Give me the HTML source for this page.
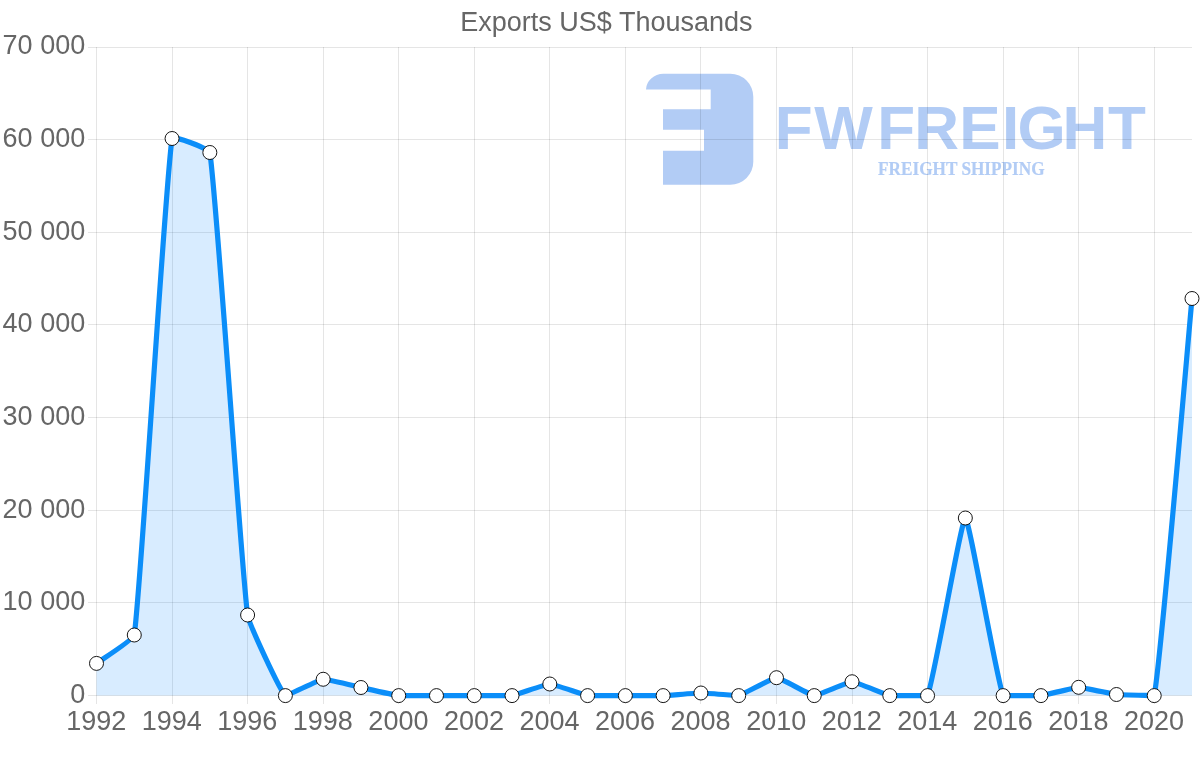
<!DOCTYPE html>
<html lang="en">
<head>
<meta charset="utf-8">
<title>Exports US$ Thousands</title>
<style>
html,body{margin:0;padding:0;background:#fff;}
body{width:1200px;height:763px;overflow:hidden;}
svg{display:block;}
.tick{font-family:"Liberation Sans", Arial, Helvetica, sans-serif;font-size:27px;fill:#666;}
.title{font-family:"Liberation Sans", Arial, Helvetica, sans-serif;font-size:27px;fill:#666;}
.brand{font-family:"Liberation Sans", Arial, sans-serif;font-weight:bold;fill:#b2ccf5;}
.sub{font-family:"Liberation Serif", "Times New Roman", serif;font-weight:bold;fill:#b2ccf5;}
</style>
</head>
<body>
<svg width="1200" height="763" viewBox="0 0 1200 763">
<rect width="1200" height="763" fill="#fff"/>
<g id="logo">
<path fill="#b2ccf5" d="M646 89.4 A18 16 0 0 1 663.5 73.8 H730.3 A23 23 0 0 1 753.3 96.8 V161.8 A23 23 0 0 1 730.3 184.8 H663 V150.8 H704 V129.7 H663 V109.2 H710.7 V89.4 Z"/>
<text class="brand" x="774.8 814.2 877.2 914.2 959.3 1002 1017.4 1062.6 1108.1" y="149.3" font-size="62">FWFREIGHT</text>
<text class="sub" stroke="#b2ccf5" stroke-width="0.2" x="878.0" y="174.8" font-size="18.4" textLength="166.6" lengthAdjust="spacingAndGlyphs">FREIGHT SHIPPING</text>
</g>
<g fill="#000" fill-opacity="0.1">
<rect x="96" y="47" width="1" height="657"/>
<rect x="172" y="47" width="1" height="657"/>
<rect x="247" y="47" width="1" height="657"/>
<rect x="323" y="47" width="1" height="657"/>
<rect x="398" y="47" width="1" height="657"/>
<rect x="474" y="47" width="1" height="657"/>
<rect x="549" y="47" width="1" height="657"/>
<rect x="625" y="47" width="1" height="657"/>
<rect x="700" y="47" width="1" height="657"/>
<rect x="776" y="47" width="1" height="657"/>
<rect x="852" y="47" width="1" height="657"/>
<rect x="927" y="47" width="1" height="657"/>
<rect x="1003" y="47" width="1" height="657"/>
<rect x="1078" y="47" width="1" height="657"/>
<rect x="1154" y="47" width="1" height="657"/>
<rect x="88" y="695" width="1104" height="1"/>
<rect x="88" y="602" width="1104" height="1"/>
<rect x="88" y="510" width="1104" height="1"/>
<rect x="88" y="417" width="1104" height="1"/>
<rect x="88" y="324" width="1104" height="1"/>
<rect x="88" y="232" width="1104" height="1"/>
<rect x="88" y="139" width="1104" height="1"/>
<rect x="88" y="47" width="1104" height="1"/>
</g>
<path d="M96.50 663.40 C100.28 660.56 133.62 639.55 134.28 635.00 C141.18 587.06 165.06 183.14 172.05 138.50 C172.62 134.89 209.22 148.69 209.83 152.50 C216.78 196.34 241.26 569.43 247.60 615.00 C248.82 623.74 280.21 691.21 285.38 695.60 C287.77 695.50 319.26 679.67 323.16 679.25 C326.81 678.86 357.15 686.68 360.93 687.50 C364.71 688.32 394.89 695.19 398.71 695.60 C402.44 695.50 432.71 695.50 436.48 695.60 C440.26 695.50 470.48 695.50 474.26 695.60 C478.04 695.50 508.34 695.50 512.03 695.60 C515.90 695.01 546.03 684.00 549.81 684.00 C553.59 684.00 583.72 695.01 587.59 695.60 C591.28 695.50 621.58 695.50 625.36 695.60 C629.14 695.50 659.36 695.50 663.14 695.60 C666.92 695.47 697.14 693.00 700.91 693.00 C704.69 693.00 735.10 695.50 738.69 695.60 C742.65 694.80 772.69 677.70 776.47 677.70 C780.24 677.70 810.39 695.39 814.24 695.60 C817.95 695.50 848.24 681.75 852.02 681.75 C855.79 681.75 885.90 694.89 889.79 695.60 C893.45 695.50 926.27 695.50 927.57 695.60 C933.82 680.90 961.57 518.00 965.34 518.00 C969.12 518.00 996.87 680.90 1003.12 695.60 C1004.42 695.50 1037.16 695.50 1040.90 695.60 C1044.72 695.18 1074.88 687.36 1078.67 687.30 C1082.44 687.25 1112.64 694.08 1116.45 694.50 C1120.19 694.91 1153.57 695.50 1154.22 695.60 C1161.13 659.43 1188.22 338.21 1192.00 298.50 L1192.00 695.5 L96.50 695.5 Z" fill="#1890ff" fill-opacity="0.17"/>
<path d="M96.50 663.40 C100.28 660.56 133.62 639.55 134.28 635.00 C141.18 587.06 165.06 183.14 172.05 138.50 C172.62 134.89 209.22 148.69 209.83 152.50 C216.78 196.34 241.26 569.43 247.60 615.00 C248.82 623.74 280.21 691.21 285.38 695.60 C287.77 695.50 319.26 679.67 323.16 679.25 C326.81 678.86 357.15 686.68 360.93 687.50 C364.71 688.32 394.89 695.19 398.71 695.60 C402.44 695.50 432.71 695.50 436.48 695.60 C440.26 695.50 470.48 695.50 474.26 695.60 C478.04 695.50 508.34 695.50 512.03 695.60 C515.90 695.01 546.03 684.00 549.81 684.00 C553.59 684.00 583.72 695.01 587.59 695.60 C591.28 695.50 621.58 695.50 625.36 695.60 C629.14 695.50 659.36 695.50 663.14 695.60 C666.92 695.47 697.14 693.00 700.91 693.00 C704.69 693.00 735.10 695.50 738.69 695.60 C742.65 694.80 772.69 677.70 776.47 677.70 C780.24 677.70 810.39 695.39 814.24 695.60 C817.95 695.50 848.24 681.75 852.02 681.75 C855.79 681.75 885.90 694.89 889.79 695.60 C893.45 695.50 926.27 695.50 927.57 695.60 C933.82 680.90 961.57 518.00 965.34 518.00 C969.12 518.00 996.87 680.90 1003.12 695.60 C1004.42 695.50 1037.16 695.50 1040.90 695.60 C1044.72 695.18 1074.88 687.36 1078.67 687.30 C1082.44 687.25 1112.64 694.08 1116.45 694.50 C1120.19 694.91 1153.57 695.50 1154.22 695.60 C1161.13 659.43 1188.22 338.21 1192.00 298.50" fill="none" stroke="#0b8ef9" stroke-width="5.2" stroke-linejoin="miter" stroke-linecap="butt"/>
<g fill="#fff" stroke="#0a0a0a" stroke-width="0.95">
<circle cx="96.50" cy="663.40" r="7"/>
<circle cx="134.28" cy="635.00" r="7"/>
<circle cx="172.05" cy="138.50" r="7"/>
<circle cx="209.83" cy="152.50" r="7"/>
<circle cx="247.60" cy="615.00" r="7"/>
<circle cx="285.38" cy="695.60" r="7"/>
<circle cx="323.16" cy="679.25" r="7"/>
<circle cx="360.93" cy="687.50" r="7"/>
<circle cx="398.71" cy="695.60" r="7"/>
<circle cx="436.48" cy="695.60" r="7"/>
<circle cx="474.26" cy="695.60" r="7"/>
<circle cx="512.03" cy="695.60" r="7"/>
<circle cx="549.81" cy="684.00" r="7"/>
<circle cx="587.59" cy="695.60" r="7"/>
<circle cx="625.36" cy="695.60" r="7"/>
<circle cx="663.14" cy="695.60" r="7"/>
<circle cx="700.91" cy="693.00" r="7"/>
<circle cx="738.69" cy="695.60" r="7"/>
<circle cx="776.47" cy="677.70" r="7"/>
<circle cx="814.24" cy="695.60" r="7"/>
<circle cx="852.02" cy="681.75" r="7"/>
<circle cx="889.79" cy="695.60" r="7"/>
<circle cx="927.57" cy="695.60" r="7"/>
<circle cx="965.34" cy="518.00" r="7"/>
<circle cx="1003.12" cy="695.60" r="7"/>
<circle cx="1040.90" cy="695.60" r="7"/>
<circle cx="1078.67" cy="687.30" r="7"/>
<circle cx="1116.45" cy="694.50" r="7"/>
<circle cx="1154.22" cy="695.60" r="7"/>
<circle cx="1192.00" cy="298.50" r="7"/>
</g>
<text class="title" x="606.4" y="30.6" text-anchor="middle">Exports US$ Thousands</text>
<g class="tick" text-anchor="end">
<text x="85.2" y="703">0</text>
<text x="85.2" y="610">10 000</text>
<text x="85.2" y="518">20 000</text>
<text x="85.2" y="425">30 000</text>
<text x="85.2" y="332">40 000</text>
<text x="85.2" y="240">50 000</text>
<text x="85.2" y="147">60 000</text>
<text x="85.2" y="54">70 000</text>
</g>
<g class="tick" text-anchor="middle">
<text x="96.20" y="730">1992</text>
<text x="171.75" y="730">1994</text>
<text x="247.30" y="730">1996</text>
<text x="322.86" y="730">1998</text>
<text x="398.41" y="730">2000</text>
<text x="473.96" y="730">2002</text>
<text x="549.51" y="730">2004</text>
<text x="625.06" y="730">2006</text>
<text x="700.61" y="730">2008</text>
<text x="776.17" y="730">2010</text>
<text x="851.72" y="730">2012</text>
<text x="927.27" y="730">2014</text>
<text x="1002.82" y="730">2016</text>
<text x="1078.37" y="730">2018</text>
<text x="1153.92" y="730">2020</text>
</g>
</svg>
</body>
</html>
